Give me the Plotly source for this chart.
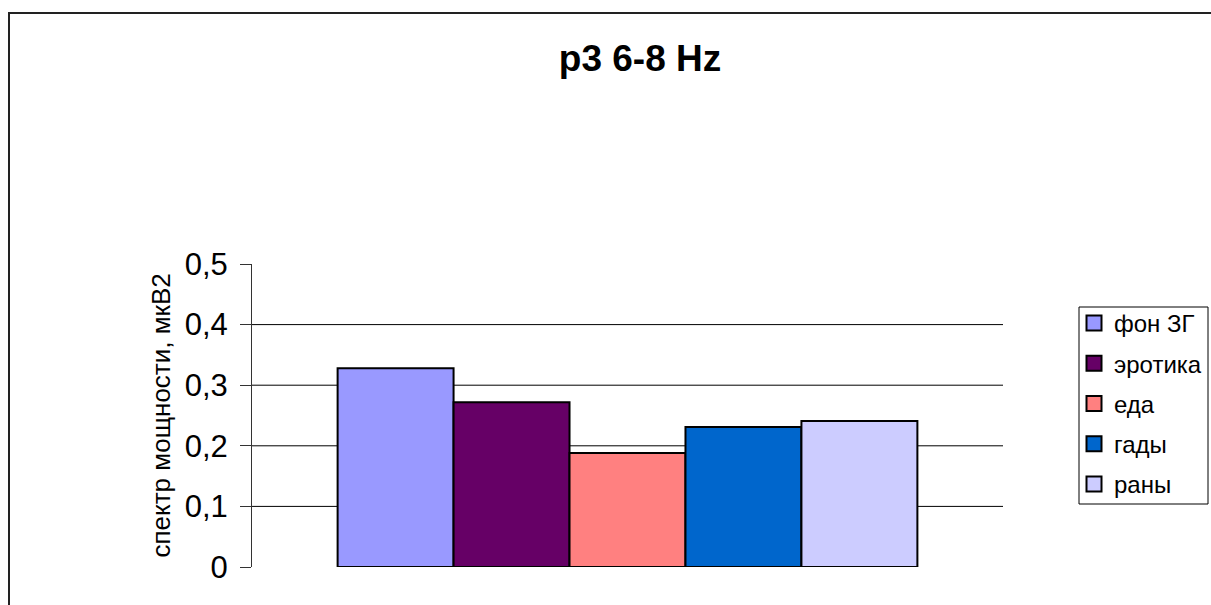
import plotly.graph_objects as go

# Power spectrum, p3 lead, 6-8 Hz band
series_names = ["фон ЗГ", "эротика", "еда", "гады", "раны"]
series_values = [0.328, 0.272, 0.188, 0.231, 0.241]
series_colors = ["#9999FF", "#660066", "#FF8080", "#0066CC", "#CCCCFF"]

y_ticks = [0, 0.1, 0.2, 0.3, 0.4, 0.5]
y_tick_labels = ["0", "0,1", "0,2", "0,3", "0,4", "0,5"]
grid_values = [0.1, 0.2, 0.3, 0.4]

FONT = "Arial, Liberation Sans, sans-serif"
W, H = 1211, 605
L, R, T, B = 252, 208, 264, 38
PW, PH = W - L - R, H - T - B


def px_x(p):
    return (p - L) / PW


def px_y(p):
    return (H - B - p) / PH


fig = go.Figure()
for name, val, col in zip(series_names, series_values, series_colors):
    fig.add_trace(go.Bar(
        x=[""], y=[val], name=name, showlegend=False,
        marker=dict(color=col, line=dict(color="black", width=2)),
    ))
# legend keys: larger outlined squares
for name, col in zip(series_names, series_colors):
    fig.add_trace(go.Scatter(
        x=[None], y=[None], name=name, mode="markers", legendgroup=name,
        marker=dict(symbol="square", size=15, color=col,
                    line=dict(color="black", width=2)),
    ))

# horizontal gridlines (none at the top of the axis)
shapes = [
    dict(type="line", xref="paper", yref="y", x0=0, x1=1, y0=g, y1=g,
         line=dict(color="black", width=1), layer="below")
    for g in grid_values
]

# chart frame (left and top edges)
shapes.append(dict(type="line", xref="paper", yref="paper",
                   x0=px_x(9), x1=px_x(9), y0=px_y(12), y1=px_y(610),
                   line=dict(color="#222222", width=2)))
shapes.append(dict(type="line", xref="paper", yref="paper",
                   x0=px_x(8), x1=px_x(1220), y0=px_y(13), y1=px_y(13),
                   line=dict(color="#222222", width=2)))
# legend box
shapes.append(dict(type="rect", xref="paper", yref="paper",
                   x0=px_x(1079), x1=px_x(1208), y0=px_y(504), y1=px_y(307),
                   line=dict(color="black", width=1)))

fig.update_layout(
    width=W, height=H,
    margin=dict(l=L, r=R, t=T, b=B, autoexpand=False),
    paper_bgcolor="white", plot_bgcolor="white",
    barmode="group", bargap=0.228, bargroupgap=0,
    title=dict(text="<b>p3 6-8 Hz</b>", x=640 / W, xanchor="center",
               y=1 - 58 / H, yanchor="middle", yref="container",
               font=dict(family=FONT, size=37, color="black")),
    xaxis=dict(showticklabels=False, showgrid=False, zeroline=False,
               showline=False, ticks=""),
    yaxis=dict(range=[0, 0.5], tickvals=y_ticks, ticktext=y_tick_labels,
               showgrid=False, zeroline=False, showline=True,
               linecolor="#333333", linewidth=1,
               ticks="outside", ticklen=11, tickcolor="#333333",
               ticklabelstandoff=6,
               tickfont=dict(family=FONT, size=31, color="black")),
    shapes=shapes,
    annotations=[dict(text="спектр мощности, мкВ2", textangle=-90,
                      xref="paper", yref="paper", x=px_x(160), y=0.5,
                      xanchor="center", yanchor="middle", showarrow=False,
                      font=dict(family=FONT, size=26, color="black"))],
    legend=dict(x=px_x(1074), xanchor="left", y=px_y(301), yanchor="top",
                borderwidth=0, bgcolor="rgba(0,0,0,0)",
                font=dict(family=FONT, size=24, color="black"),
                tracegroupgap=6, itemwidth=30),
    showlegend=True,
)

fig.write_html("out.html")
